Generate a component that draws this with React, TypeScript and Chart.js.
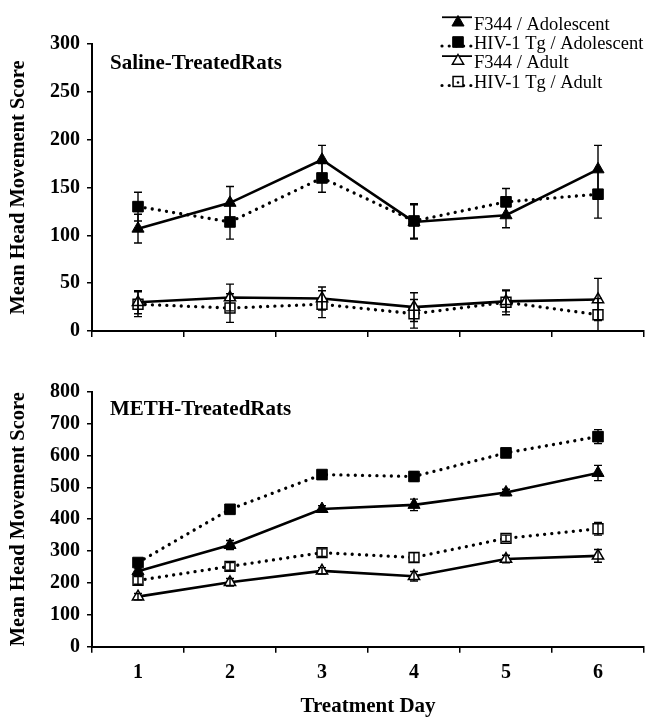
import React, { useEffect, useRef } from 'react';
import { Chart, registerables } from 'chart.js';

Chart.register(...registerables);

// ---------- data ----------
const days = ['1', '2', '3', '4', '5', '6'];
const seriesNames = ['F344 / Adolescent', 'HIV-1 Tg / Adolescent', 'F344 / Adult', 'HIV-1 Tg / Adult'];

const salineF344Adol = [107, 134, 179, 114, 121, 169];
const salineF344AdolErr = [15, 17, 15, 18, 13, 25];
const salineHivAdol = [130, 114, 160, 115, 135, 143];
const salineHivAdolErr = [15, 18, 15, 18, 14, 25];
const salineF344Adult = [30, 35, 34, 25, 31, 33];
const salineF344AdultErr = [12, 14, 12, 15, 11, 22];
const salineHivAdult = [28, 24, 28, 18, 30, 17];
const salineHivAdultErr = [13, 15, 14, 15, 13, 17];

const methF344Adol = [237, 319, 432, 445, 484, 545];
const methF344AdolErr = [10, 14, 10, 18, 10, 24];
const methHivAdol = [264, 431, 540, 534, 608, 659];
const methHivAdolErr = [10, 12, 10, 15, 10, 22];
const methF344Adult = [157, 202, 238, 221, 275, 285];
const methF344AdultErr = [10, 12, 10, 15, 12, 20];
const methHivAdult = [208, 252, 295, 280, 340, 370];
const methHivAdultErr = [12, 12, 12, 15, 10, 20];

const salineAxis = { max: 300, step: 50 };
const methAxis = { max: 800, step: 100 };

const panelTitles = ['Saline-TreatedRats', 'METH-TreatedRats'];
const yTitle = 'Mean Head Movement Score';
const xTitle = 'Treatment Day';

// ---------- styling ----------
const SERIF = "'Liberation Serif', 'Times New Roman', serif";
const styles = [
  { dotted: false, shape: 'triangle', filled: true, r: 7 },
  { dotted: true, shape: 'rect', filled: true, r: 7.5 },
  { dotted: false, shape: 'triangle', filled: false, r: 6.5 },
  { dotted: true, shape: 'rect', filled: false, r: 7 },
];

function makeDataset(label: string, data: number[], errors: number[], st: any) {
  return {
    label,
    data,
    errors,
    borderColor: '#000',
    borderWidth: st.dotted ? 3.3 : 2.6,
    borderDash: st.dotted ? [0.01, 7.2] : [],
    borderCapStyle: st.dotted ? 'round' : 'butt',
    pointStyle: st.shape,
    pointRadius: st.r,
    pointHoverRadius: st.r,
    pointBackgroundColor: st.filled ? '#000' : '#fff',
    pointBorderColor: '#000',
    pointBorderWidth: st.filled ? 1 : 1.5,
    tension: 0,
    fill: false,
  };
}

const errorBarsPlugin = {
  id: 'errorBars',
  afterDatasetsDraw(chart: any) {
    const ctx = chart.ctx;
    const y = chart.scales.y;
    chart.data.datasets.forEach((ds: any, di: number) => {
      const meta = chart.getDatasetMeta(di);
      (ds.errors || []).forEach((e: number, i: number) => {
        const pt = meta.data[i];
        if (!pt) return;
        const v = ds.data[i];
        const top = y.getPixelForValue(v + e);
        const bot = y.getPixelForValue(Math.max(0, v - e));
        ctx.save();
        ctx.strokeStyle = '#000';
        ctx.lineWidth = 1.4;
        ctx.beginPath();
        ctx.moveTo(pt.x, top);
        ctx.lineTo(pt.x, bot);
        ctx.moveTo(pt.x - 4, top);
        ctx.lineTo(pt.x + 4, top);
        ctx.moveTo(pt.x - 4, bot);
        ctx.lineTo(pt.x + 4, bot);
        ctx.stroke();
        ctx.restore();
      });
    });
  },
};

const panelLabelPlugin = {
  id: 'panelLabel',
  afterDraw(chart: any, _args: any, opts: any) {
    if (!opts || !opts.text) return;
    const ctx = chart.ctx;
    ctx.save();
    ctx.fillStyle = '#000';
    ctx.font = `bold 21px ${SERIF}`;
    ctx.textAlign = 'left';
    ctx.textBaseline = 'alphabetic';
    ctx.fillText(opts.text, opts.x, opts.y);
    ctx.restore();
  },
};

function drawMarker(ctx: CanvasRenderingContext2D, shape: string, x: number, y: number, r: number, filled: boolean) {
  ctx.save();
  ctx.beginPath();
  if (shape === 'triangle') {
    ctx.moveTo(x, y - r);
    ctx.lineTo(x + r * 0.866, y + r * 0.5);
    ctx.lineTo(x - r * 0.866, y + r * 0.5);
    ctx.closePath();
  } else {
    const s = r * Math.SQRT1_2;
    ctx.rect(x - s, y - s, 2 * s, 2 * s);
  }
  ctx.fillStyle = filled ? '#000' : '#fff';
  ctx.fill();
  ctx.strokeStyle = '#000';
  ctx.lineWidth = filled ? 1 : 1.5;
  ctx.stroke();
  ctx.restore();
}

const legendPlugin = {
  id: 'customLegend',
  afterDraw(chart: any, _args: any, opts: any) {
    if (!opts || !opts.show) return;
    const ctx = chart.ctx;
    const rowsY = [24, 43, 62.5, 82.5];
    const x0 = 442;
    const x1 = 472;
    const mx = 458;
    seriesNames.forEach((name, i) => {
      const st = styles[i];
      const cy = rowsY[i];
      const markerY = st.shape === 'triangle' ? cy - 1.5 : cy - 1;
      const lineY = st.shape === 'triangle' ? markerY - st.r * 0.75 : markerY + 4;
      ctx.save();
      ctx.strokeStyle = '#000';
      if (st.dotted) {
        ctx.lineWidth = 3.2;
        ctx.lineCap = 'round';
        ctx.setLineDash([0.01, 7.2]);
      } else {
        ctx.lineWidth = 1.8;
      }
      ctx.beginPath();
      ctx.moveTo(x0, lineY);
      ctx.lineTo(x1, lineY);
      ctx.stroke();
      ctx.restore();
      drawMarker(ctx, st.shape, mx, markerY, st.r, st.filled);
      if (!st.filled && st.shape === 'rect') {
        ctx.save();
        ctx.fillStyle = '#000';
        ctx.beginPath();
        ctx.arc(mx, markerY + 1, 1.3, 0, Math.PI * 2);
        ctx.fill();
        ctx.restore();
      }
      ctx.save();
      ctx.fillStyle = '#000';
      ctx.font = `18.5px ${SERIF}`;
      ctx.textAlign = 'left';
      ctx.textBaseline = 'middle';
      ctx.fillText(name, 474, cy + 1);
      ctx.restore();
    });
  },
};

function makeConfig(opts: {
  series: { data: number[]; err: number[] }[];
  axis: { max: number; step: number };
  padTop: number;
  xHeight: number;
  showXLabels: boolean;
  title: string;
  titleY: number;
  legend: boolean;
}) {
  return {
    type: 'line',
    data: {
      labels: days,
      datasets: opts.series.map((s, i) => makeDataset(seriesNames[i], s.data, s.err, styles[i])),
    },
    plugins: [errorBarsPlugin, panelLabelPlugin, legendPlugin],
    options: {
      animation: false,
      responsive: false,
      devicePixelRatio: 1,
      layout: { autoPadding: false, padding: { top: opts.padTop, right: 2, left: 0, bottom: 0 } },
      plugins: {
        legend: { display: false },
        tooltip: { enabled: false },
        title: { display: false },
        panelLabel: { text: opts.title, x: 110, y: opts.titleY },
        customLegend: { show: opts.legend },
      },
      scales: {
        x: {
          type: 'category',
          offset: true,
          grid: {
            display: true,
            drawOnChartArea: false,
            drawTicks: true,
            tickLength: 6,
            color: '#000',
            lineWidth: 1.5,
            offset: true,
          },
          border: { display: true, color: '#000', width: 2 },
          ticks: {
            display: opts.showXLabels,
            color: '#000',
            padding: 8,
            font: { family: SERIF, size: 20, weight: 'bold' },
          },
          title: {
            display: opts.showXLabels,
            text: xTitle,
            color: '#000',
            padding: { top: 0, bottom: 0 },
            font: { family: SERIF, size: 21, weight: 'bold' },
          },
          afterFit: (s: any) => {
            s.height = opts.xHeight;
          },
        },
        y: {
          type: 'linear',
          min: 0,
          max: opts.axis.max,
          grid: {
            display: true,
            drawOnChartArea: false,
            drawTicks: true,
            tickLength: 5,
            color: '#000',
            lineWidth: 1.5,
          },
          border: { display: true, color: '#000', width: 2 },
          ticks: {
            stepSize: opts.axis.step,
            color: '#000',
            padding: 7,
            font: { family: SERIF, size: 20, weight: 'bold' },
          },
          title: {
            display: true,
            text: yTitle,
            color: '#000',
            padding: { top: 6, bottom: 0 },
            font: { family: SERIF, size: 20.5, weight: 'bold' },
          },
          afterFit: (s: any) => {
            s.width = 92;
          },
        },
      },
    },
  };
}

export default function App() {
  const topRef = useRef<HTMLCanvasElement>(null);
  const botRef = useRef<HTMLCanvasElement>(null);

  useEffect(() => {
    const c1 = new Chart(
      topRef.current as HTMLCanvasElement,
      makeConfig({
        series: [
          { data: salineF344Adol, err: salineF344AdolErr },
          { data: salineHivAdol, err: salineHivAdolErr },
          { data: salineF344Adult, err: salineF344AdultErr },
          { data: salineHivAdult, err: salineHivAdultErr },
        ],
        axis: salineAxis,
        padTop: 44,
        xHeight: 9.3,
        showXLabels: false,
        title: panelTitles[0],
        titleY: 68.5,
        legend: true,
      }) as any
    );
    const c2 = new Chart(
      botRef.current as HTMLCanvasElement,
      makeConfig({
        series: [
          { data: methF344Adol, err: methF344AdolErr },
          { data: methHivAdol, err: methHivAdolErr },
          { data: methF344Adult, err: methF344AdultErr },
          { data: methHivAdult, err: methHivAdultErr },
        ],
        axis: methAxis,
        padTop: 41.7,
        xHeight: 72.3,
        showXLabels: true,
        title: panelTitles[1],
        titleY: 65,
        legend: false,
      }) as any
    );
    return () => {
      c1.destroy();
      c2.destroy();
    };
  }, []);

  return (
    <div style={{ position: 'absolute', left: 0, top: 0, width: 646, height: 719, background: '#fff' }}>
      <canvas ref={topRef} width={646} height={350} style={{ position: 'absolute', left: 0, top: 0 }} />
      <canvas ref={botRef} width={646} height={369} style={{ position: 'absolute', left: 0, top: 350 }} />
    </div>
  );
}
